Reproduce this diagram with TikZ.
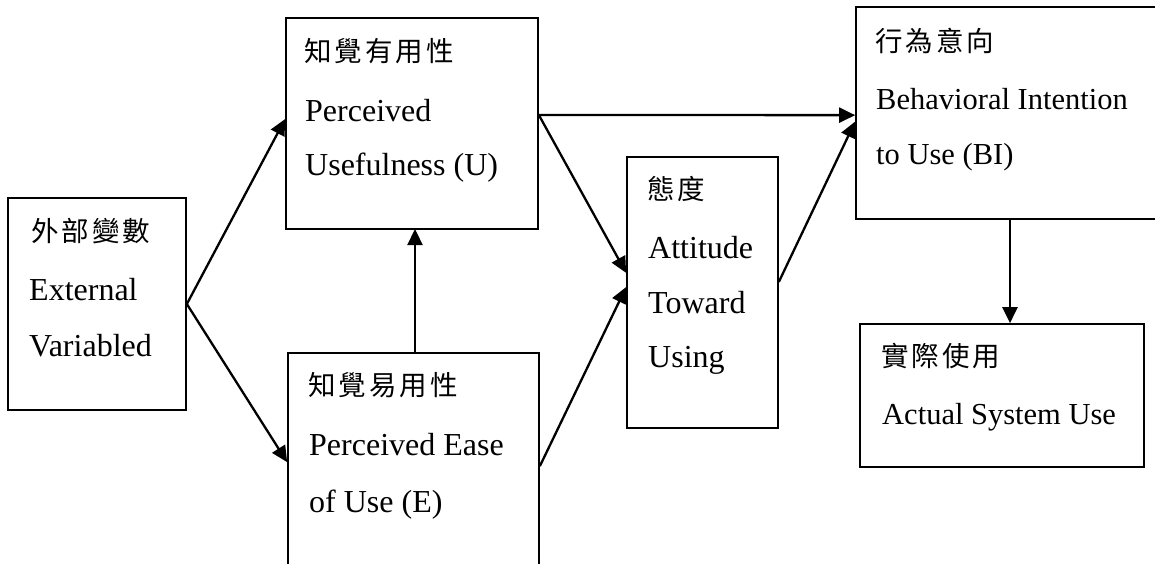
\documentclass[tikz,border=0pt]{standalone}
\usepackage{fontspec}
\setmainfont{Liberation Serif}
\newfontfamily\cjk[LetterSpace=11]{Noto Sans CJK TC}
\usetikzlibrary{arrows.meta,calc}

\begin{document}
\begin{tikzpicture}[x=1pt,y=-1pt,
  box/.style={draw,line width=1.7pt,rectangle,inner sep=0pt},
  en/.style={anchor=base west,inner sep=0pt,font=\fontsize{32}{38}\selectfont},
  ensmall/.style={en,font=\fontsize{30.5}{36}\selectfont},
  zh/.style={anchor=base west,inner sep=0pt,font=\fontsize{27.5}{32}\selectfont\cjk},
  link/.style={line width=2.3pt,-{Triangle[length=16pt,width=15pt]}}]
\clip (0,0) rectangle (1155,563);

% boxes (corner coordinates in pixels)
\node[box,minimum width=178pt,minimum height=212pt] (ev) at (97,304) {};
\node[box,minimum width=252pt,minimum height=211pt] (pu) at (412,123.5) {};
\node[box,minimum width=251pt,minimum height=240pt] (pe) at (413.5,473) {};
\node[box,minimum width=151pt,minimum height=271pt] (at) at (702.5,292.5) {};
\node[box,minimum width=320pt,minimum height=212pt] (bi) at (1016,113) {};
\node[box,minimum width=284pt,minimum height=143pt] (au) at (1002,395.5) {};

% labels
\node[zh] (ev1) at (31,241) {外部變數};
\node[en] (ev2) at (29,300) {External};
\node[en] (ev3) at (29,356) {Variabled};

\node[zh] (pu1) at (304,61) {知覺有用性};
\node[en] (pu2) at (305,121) {Perceived};
\node[en] (pu3) at (305,175) {Usefulness (U)};

\node[zh] (pe1) at (308,395) {知覺易用性};
\node[en] (pe2) at (309,455) {Perceived Ease};
\node[en] (pe3) at (309,512) {of Use (E)};

\node[zh] (at1) at (647,199) {態度};
\node[en] (at2) at (648,258) {Attitude};
\node[en] (at3) at (648,313) {Toward};
\node[en] (at4) at (648,367) {Using};

\node[zh] (bi1) at (875,51) {行為意向};
\node[ensmall] (bi2) at (876,109) {Behavioral Intention};
\node[ensmall] (bi3) at (876,164) {to Use (BI)};

\node[zh] (au1) at (881,366) {實際使用};
\node[ensmall] (au2) at (882,424) {Actual System Use};

% connectors
\draw[link] (ev.east) -- ($(pu.north west)!0.479!(pu.south west)$);
\draw[link] (ev.east) -- ($(pe.north west)+(0,110)$);
\draw[link] ($(pu.north east)!0.46!(pu.south east)$) -- ($(bi.north west)!0.51!(bi.south west)$);
\draw[link] ($(pu.north east)!0.46!(pu.south east)$) -- ($(at.north west)!0.428!(at.south west)$);
\draw[link] ($(pe.north east)+(0,114)$) -- ($(at.north west)!0.48!(at.south west)$);
\draw[link] ($(at.north east)!0.461!(at.south east)$) -- ($(bi.north west)!0.54!(bi.south west)$);
\draw[link] (415,353) -- (415,229);
\draw[link] (1010,219) -- (au.north -| 1010,0);
\end{tikzpicture}
\end{document}
